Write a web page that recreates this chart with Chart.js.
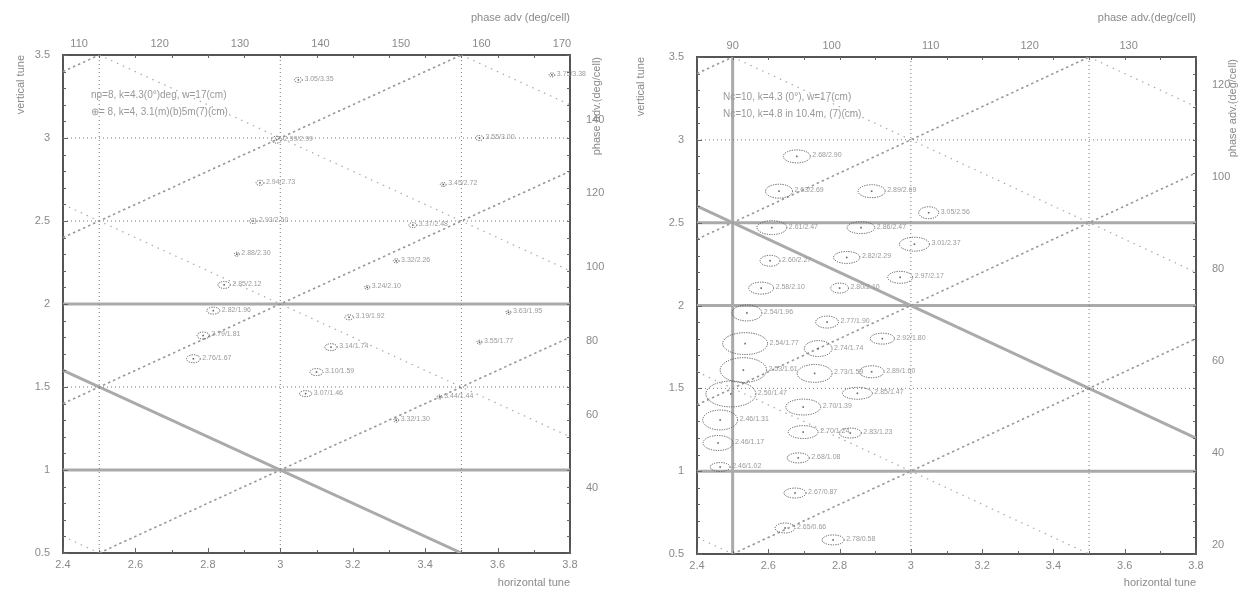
<!DOCTYPE html>
<html>
<head>
<meta charset="utf-8">
<script src="https://cdn.jsdelivr.net/npm/chart.js@4.4.1/dist/chart.umd.min.js"></script>
<style>
  body { margin: 0; background: #fff; width: 1246px; height: 600px; overflow: hidden; }
  .box { position: absolute; top: 0; height: 600px; }
  #left { left: 0; width: 620px; }
  #right { left: 620px; width: 626px; }
</style>
</head>
<body>
<div class="box" id="left"><canvas id="leftChart"></canvas></div>
<div class="box" id="right"><canvas id="rightChart"></canvas></div>
<script>
// tune window shared by both diagrams
const NUX_MIN = 2.4, NUX_MAX = 3.8;
const NUY_MIN = 0.5, NUY_MAX = 3.5;

// cells per ring (phase advance per cell = tune * 360 / cells)
const leftCells = 8;
const rightCells = 10;

// resonance lines a*nux + b*nuy = c
const leftStrongRes = [[0, 1, 2], [0, 1, 1], [1, 1, 4]];
const leftDiffRes = [[1, -1, -1], [1, -1, 0], [1, -1, 1], [1, -1, 2]];
const leftSumRes = [[1, 1, 3], [1, 1, 5], [1, 1, 6], [1, 1, 7]];
const leftHalfRes = [[2, 0, 5], [1, 0, 3], [2, 0, 7], [0, 1, 3], [0, 2, 5], [0, 2, 3]];

const rightStrongRes = [[0, 2, 5], [0, 1, 2], [0, 1, 1], [2, 0, 5], [1, 1, 5]];
const rightDiffRes = [[1, -1, -1], [1, -1, 0], [1, -1, 1], [1, -1, 2]];
const rightSumRes = [[1, 1, 3], [1, 1, 4], [1, 1, 6], [1, 1, 7]];
const rightHalfRes = [[1, 0, 3], [2, 0, 7], [0, 1, 3], [0, 2, 3]];

// operating points, left diagram (N=8)
const leftNux = [2.99, 3.05, 2.944, 2.925, 2.88, 2.845, 2.815, 2.787, 2.76, 3.366, 3.55, 3.75,
                 3.45, 3.32, 3.24, 3.19, 3.14, 3.10, 3.07, 3.55, 3.63, 3.32, 3.44];
const leftNuy = [2.99, 3.35, 2.73, 2.50, 2.30, 2.115, 1.96, 1.81, 1.67, 2.475, 3.00, 3.38,
                 2.72, 2.26, 2.10, 1.92, 1.74, 1.59, 1.46, 1.77, 1.95, 1.30, 1.44];
// tune spread half widths
const leftDnux = [0.014, 0.011, 0.011, 0.011, 0.007, 0.017, 0.018, 0.017, 0.019, 0.011, 0.011, 0.008,
                  0.008, 0.008, 0.007, 0.012, 0.017, 0.018, 0.017, 0.007, 0.007, 0.007, 0.007];
const leftDnuy = [0.021, 0.015, 0.015, 0.015, 0.012, 0.021, 0.021, 0.021, 0.024, 0.015, 0.015, 0.012,
                  0.012, 0.012, 0.012, 0.015, 0.021, 0.021, 0.018, 0.012, 0.012, 0.012, 0.012];
const leftLabels = ['2.99/2.99', '3.05/3.35', '2.94/2.73', '2.93/2.50', '2.88/2.30', '2.85/2.12', '2.82/1.96',
                    '2.79/1.81', '2.76/1.67', '3.37/2.48', '3.55/3.00', '3.75/3.38', '3.45/2.72', '3.32/2.26',
                    '3.24/2.10', '3.19/1.92', '3.14/1.74', '3.10/1.59', '3.07/1.46', '3.55/1.77', '3.63/1.95',
                    '3.32/1.30', '3.44/1.44'];

// operating points, right diagram (N=10)
const rightNux = [2.68, 2.63, 2.89, 2.61, 2.86, 3.01, 3.05, 2.605, 2.82, 2.97, 2.58, 2.80, 2.54, 2.765,
                  2.92, 2.535, 2.74, 2.53, 2.73, 2.89, 2.495, 2.85, 2.465, 2.459, 2.465, 2.698, 2.698,
                  2.83, 2.684, 2.675, 2.647, 2.782];
const rightNuy = [2.90, 2.69, 2.69, 2.47, 2.47, 2.37, 2.56, 2.27, 2.29, 2.17, 2.105, 2.105, 1.955, 1.90,
                  1.80, 1.77, 1.74, 1.61, 1.59, 1.60, 1.466, 1.47, 1.309, 1.17, 1.025, 1.387, 1.236,
                  1.23, 1.08, 0.868, 0.657, 0.585];
const rightDnux = [0.038, 0.038, 0.038, 0.042, 0.039, 0.042, 0.028, 0.028, 0.037, 0.035, 0.035, 0.025, 0.042, 0.032,
                   0.034, 0.063, 0.039, 0.065, 0.049, 0.035, 0.07, 0.042, 0.049, 0.042, 0.028, 0.049, 0.042,
                   0.031, 0.031, 0.031, 0.028, 0.031];
const rightDnuy = [0.039, 0.042, 0.039, 0.042, 0.036, 0.042, 0.036, 0.033, 0.036, 0.036, 0.036, 0.03, 0.048, 0.036,
                   0.033, 0.066, 0.048, 0.075, 0.054, 0.036, 0.078, 0.036, 0.06, 0.045, 0.027, 0.048, 0.039,
                   0.03, 0.03, 0.03, 0.03, 0.03];
const rightLabels = rightNux.map((v, i) => v.toFixed(2) + '/' + rightNuy[i].toFixed(2));

const leftLegend = ['np=8, k=4.3(0\u00b0)deg, w=17(cm)', '\u2295= 8, k=4, 3.1(m)(b)5m(7)(cm)'];
const rightLegend = ['Nc=10, k=4.3 (0\u00b0), w=17(cm)', 'Nc=10, k=4.8 in 10.4m, (7)(cm)'];

const GRAY = '#8a8a8a';
const FONT = { family: 'Liberation Sans, Arial, sans-serif', size: 11 };

function resonance(a, b, c) {
    const pts = [];
    if (b !== 0) {
        [NUX_MIN, NUX_MAX].forEach(x => {
            const y = (c - a * x) / b;
            if (y >= NUY_MIN - 1e-9 && y <= NUY_MAX + 1e-9) pts.push({ x, y });
        });
    }
    if (a !== 0) {
        [NUY_MIN, NUY_MAX].forEach(y => {
            const x = (c - b * y) / a;
            if (x >= NUX_MIN - 1e-9 && x <= NUX_MAX + 1e-9) pts.push({ x, y });
        });
    }
    const out = [];
    pts.forEach(p => {
        if (!out.some(q => Math.abs(q.x - p.x) < 1e-6 && Math.abs(q.y - p.y) < 1e-6)) out.push(p);
    });
    return out.sort((p, q) => p.x - q.x || p.y - q.y);
}

function resDatasets(list, style) {
    return list.map(r => Object.assign({
        type: 'line',
        data: resonance(r[0], r[1], r[2]),
        pointRadius: 0,
        fill: false,
        tension: 0
    }, style));
}

const ellipsePlugin = {
    id: 'ellipses',
    afterDatasetsDraw(chart) {
        const { ctx } = chart;
        const xs = chart.scales.x, ys = chart.scales.y;
        chart.data.datasets.forEach(ds => {
            if (!ds.spreadX) return;
            ds.data.forEach((p, i) => {
                const cx = xs.getPixelForValue(p.x);
                const cy = ys.getPixelForValue(p.y);
                const rx = Math.abs(xs.getPixelForValue(p.x + ds.spreadX[i]) - cx);
                const ry = Math.abs(ys.getPixelForValue(p.y + ds.spreadY[i]) - cy);
                ctx.save();
                ctx.strokeStyle = '#555';
                ctx.lineWidth = 1;
                ctx.setLineDash([1.2, 1.2]);
                ctx.beginPath();
                ctx.ellipse(cx, cy, rx, ry, 0, 0, Math.PI * 2);
                ctx.stroke();
                ctx.setLineDash([]);
                ctx.fillStyle = '#666';
                ctx.fillRect(cx - 0.8, cy - 0.8, 1.6, 1.6);
                ctx.fillStyle = '#9a9a9a';
                ctx.font = '7px Liberation Sans, Arial, sans-serif';
                ctx.textBaseline = 'middle';
                ctx.fillText(ds.labels[i], cx + rx + 2, cy - 1);
                ctx.restore();
            });
        });
    }
};

const decorPlugin = {
    id: 'decor',
    afterDraw(chart, args, opts) {
        const { ctx, chartArea } = chart;
        const xs = chart.scales.x, ys = chart.scales.y;
        ctx.save();
        ctx.strokeStyle = '#666';
        ctx.lineWidth = 1;
        // inner ticks every 0.1 in tune
        for (let v = 24; v <= 38; v++) {
            const px = Math.round(xs.getPixelForValue(v / 10)) + 0.5;
            const len = v % 2 === 0 ? 5 : 3;
            ctx.beginPath();
            ctx.moveTo(px, chartArea.bottom); ctx.lineTo(px, chartArea.bottom - len);
            ctx.moveTo(px, chartArea.top); ctx.lineTo(px, chartArea.top + 3);
            ctx.stroke();
        }
        for (let v = 5; v <= 35; v++) {
            const py = Math.round(ys.getPixelForValue(v / 10)) + 0.5;
            const len = v % 5 === 0 ? 5 : 3;
            ctx.beginPath();
            ctx.moveTo(chartArea.left, py); ctx.lineTo(chartArea.left + len, py);
            ctx.moveTo(chartArea.right, py); ctx.lineTo(chartArea.right - 3, py);
            ctx.stroke();
        }
        // legend text
        ctx.fillStyle = '#999';
        ctx.font = '10px Liberation Sans, Arial, sans-serif';
        ctx.textBaseline = 'middle';
        opts.legend.forEach((t, i) => ctx.fillText(t, chartArea.left + opts.legendDx, chartArea.top + 40 + i * 17));
        // right side title, reading upward
        ctx.fillStyle = GRAY;
        ctx.font = '11px Liberation Sans, Arial, sans-serif';
        ctx.translate(opts.sideX, chartArea.top + 2);
        ctx.rotate(-Math.PI / 2);
        ctx.textAlign = 'right';
        ctx.fillText(opts.sideTitle, 0, 0);
        ctx.restore();
    }
};

function makeChart(id, cfg) {
    const k = 360 / cfg.cells;
    const fmt = v => String(Number(v.toFixed(2)));
    const border = { display: true, color: '#555', width: 2, dash: [2, 1] };
    const grid = { display: false, drawTicks: false };
    return new Chart(document.getElementById(id), {
        data: {
            datasets: [
                ...resDatasets(cfg.half, { borderColor: '#777', borderWidth: 1, borderDash: [1, 3] }),
                ...resDatasets(cfg.sum, { borderColor: '#aaa', borderWidth: 1.2, borderDash: [1.5, 5] }),
                ...resDatasets(cfg.diff, { borderColor: '#999', borderWidth: 1.6, borderDash: [2.5, 3] }),
                ...resDatasets(cfg.strong, { borderColor: '#aaa', borderWidth: 3, borderDash: [] }),
                {
                    type: 'scatter',
                    data: cfg.nux.map((x, i) => ({ x, y: cfg.nuy[i] })),
                    pointRadius: 0,
                    spreadX: cfg.dnux,
                    spreadY: cfg.dnuy,
                    labels: cfg.labels
                }
            ]
        },
        options: {
            animation: false,
            responsive: true,
            maintainAspectRatio: false,
            layout: { padding: 0 },
            plugins: {
                legend: { display: false },
                tooltip: { enabled: false },
                decor: { legend: cfg.legend, legendDx: cfg.legendDx, sideTitle: 'phase adv.(deg/cell)', sideX: cfg.sideX }
            },
            scales: {
                x: {
                    type: 'linear', position: 'bottom', min: NUX_MIN, max: NUX_MAX,
                    grid, border,
                    ticks: { stepSize: 0.2, color: GRAY, font: FONT, padding: 5, callback: fmt },
                    title: { display: true, text: 'horizontal tune', align: 'end', color: GRAY, font: FONT, padding: { top: 0, bottom: 10 } },
                    afterFit: s => { s.height = 600 - cfg.bottom; }
                },
                x2: {
                    type: 'linear', position: 'top', min: NUX_MIN * k, max: NUX_MAX * k,
                    grid, border,
                    ticks: { stepSize: 10, includeBounds: false, color: GRAY, font: FONT, padding: 4 },
                    title: { display: true, text: cfg.topTitle, align: 'end', color: GRAY, font: FONT, padding: { top: 11, bottom: 0 } },
                    afterFit: s => { s.height = cfg.top; }
                },
                y: {
                    type: 'linear', position: 'left', min: NUY_MIN, max: NUY_MAX,
                    grid, border,
                    ticks: { stepSize: 0.5, color: GRAY, font: FONT, padding: 13, callback: fmt },
                    title: { display: true, text: 'vertical tune', align: 'end', color: GRAY, font: FONT, padding: { top: 14, bottom: 0 } },
                    afterFit: s => { s.width = cfg.left; }
                },
                y2: {
                    type: 'linear', position: 'right', min: NUY_MIN * k, max: NUY_MAX * k,
                    grid, border,
                    ticks: { stepSize: 20, includeBounds: false, color: GRAY, font: FONT, padding: 16 },
                    afterFit: s => { s.width = cfg.rightW; }
                }
            }
        },
        plugins: [ellipsePlugin, decorPlugin]
    });
}

makeChart('leftChart', {
    cells: leftCells, strong: leftStrongRes, diff: leftDiffRes, sum: leftSumRes, half: leftHalfRes,
    nux: leftNux, nuy: leftNuy, dnux: leftDnux, dnuy: leftDnuy, labels: leftLabels,
    legend: leftLegend, legendDx: 28, topTitle: 'phase adv (deg/cell)', sideX: 597,
    left: 63, rightW: 50, top: 55, bottom: 553
});

makeChart('rightChart', {
    cells: rightCells, strong: rightStrongRes, diff: rightDiffRes, sum: rightSumRes, half: rightHalfRes,
    nux: rightNux, nuy: rightNuy, dnux: rightDnux, dnuy: rightDnuy, labels: rightLabels,
    legend: rightLegend, legendDx: 26, topTitle: 'phase adv.(deg/cell)', sideX: 613,
    left: 77, rightW: 50, top: 57, bottom: 554
});
</script>
</body>
</html>
